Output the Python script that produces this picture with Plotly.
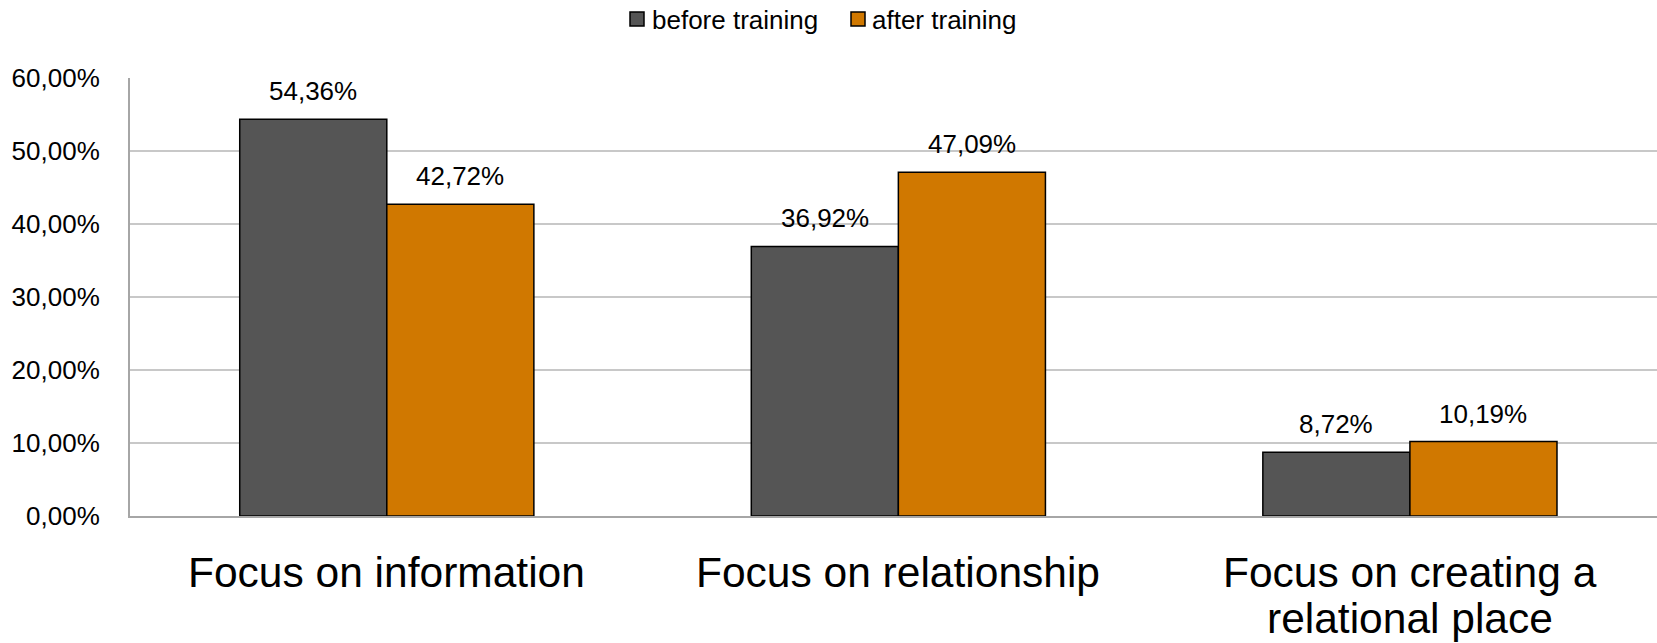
import plotly.graph_objects as go

categories = ["Focus on information", "Focus on relationship", "Focus on creating a relational place"]
category_lines = [["Focus on information"], ["Focus on relationship"], ["Focus on creating a", "relational place"]]
before_training = [54.36, 36.92, 8.72]
after_training = [42.72, 47.09, 10.19]
y_ticks = [0, 10, 20, 30, 40, 50, 60]
y_tick_labels = ["0,00%", "10,00%", "20,00%", "30,00%", "40,00%", "50,00%", "60,00%"]
series_names = ["before training", "after training"]
series_colors = ["#555555", "#D07800"]

FONT = "Liberation Sans, Arial, sans-serif"
W, H = 1657, 643
ML, MR, MT, MB = 130, 0, 78, 127
GAP = 0.425
BAR_W = (1 - GAP) / 2


def px_x(p):
    return (p - ML) / (W - ML - MR)


def px_y(p):
    return (H - MB - p) / (H - MT - MB)


fig = go.Figure()
for name, vals, col in zip(series_names, [before_training, after_training], series_colors):
    fig.add_trace(go.Bar(name=name, x=categories, y=vals, showlegend=False,
                         marker=dict(color=col, line=dict(color="#000000", width=1.5))))

annotations = []
shapes = []

# value labels above each bar
for i, (b, a) in enumerate(zip(before_training, after_training)):
    for val, off in ((b, -BAR_W / 2), (a, BAR_W / 2)):
        annotations.append(dict(x=i + off, y=val, xref="x", yref="y",
                                text=f"{val:.2f}".replace(".", ",") + "%",
                                showarrow=False, yshift=28,
                                font=dict(family=FONT, size=26, color="#000000")))

# category labels under the axis
for i, lines in enumerate(category_lines):
    for k, line in enumerate(lines):
        annotations.append(dict(x=categories[i], xref="x", y=px_y(572 + 46 * k), yref="paper",
                                text=line, showarrow=False, yanchor="middle",
                                font=dict(family=FONT, size=42.5, color="#000000")))

# legend drawn at the top centre
legend_items = [(630, 650), (851, 870)]
for (sq_x, tx_x), name, col in zip(legend_items, series_names, series_colors):
    shapes.append(dict(type="rect", xref="paper", yref="paper",
                       x0=px_x(sq_x), x1=px_x(sq_x + 14), y0=px_y(26), y1=px_y(12),
                       fillcolor=col, line=dict(color="#000000", width=1.5)))
    annotations.append(dict(x=px_x(tx_x), y=px_y(20), xref="paper", yref="paper",
                            text=name, showarrow=False, xanchor="left", yanchor="middle",
                            font=dict(family=FONT, size=26, color="#000000")))

fig.update_layout(
    width=W, height=H,
    barmode="group", bargap=GAP, bargroupgap=0,
    plot_bgcolor="white", paper_bgcolor="white",
    margin=dict(l=ML, r=MR, t=MT, b=MB),
    font=dict(family=FONT, color="#000000"),
    showlegend=False,
    annotations=annotations,
    shapes=shapes,
    xaxis=dict(range=[-0.502, 2.483], showline=True, linecolor="#A6A6A6", linewidth=2,
               showticklabels=False, ticks=""),
    yaxis=dict(range=[0, 60], tickvals=y_ticks, ticktext=y_tick_labels,
               showgrid=True, gridcolor="#C8C8C8", gridwidth=1.5,
               showline=True, linecolor="#A6A6A6", linewidth=2,
               tickfont=dict(family=FONT, size=26, color="#000000"),
               ticks="", ticklabelstandoff=23, zeroline=False),
)

fig.write_html("out.html")
